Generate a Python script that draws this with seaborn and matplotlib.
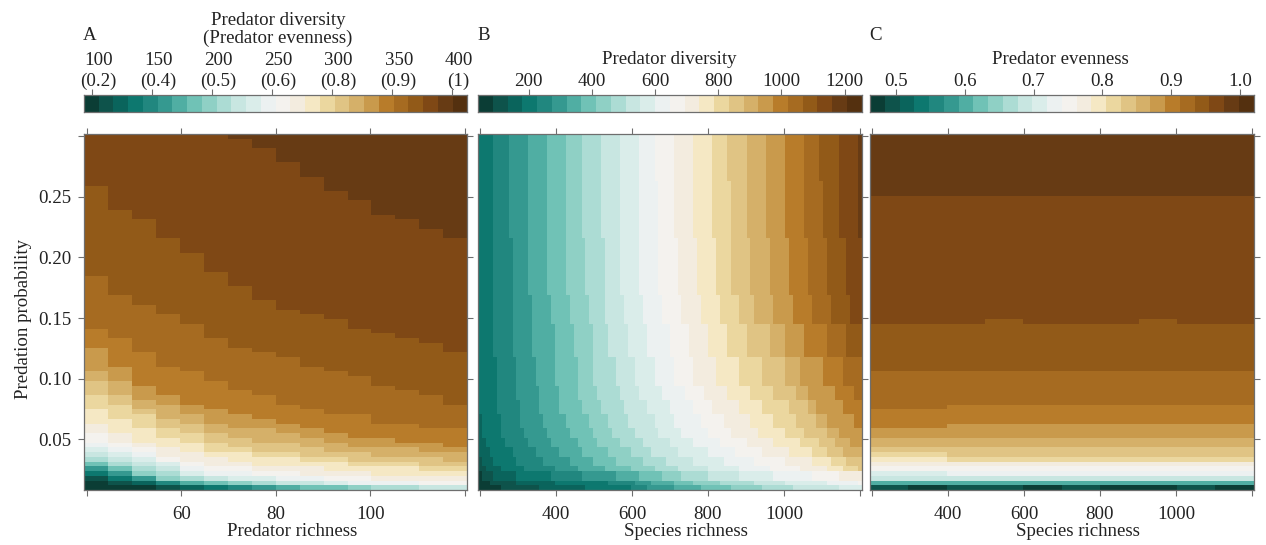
import numpy as np
import matplotlib
matplotlib.use("Agg")
import matplotlib.pyplot as plt
from matplotlib.colors import ListedColormap
from matplotlib.transforms import ScaledTranslation
import seaborn as sns

# ---------- data ----------
# Colour classes
level_colors = ["#0b3d35", "#0e534b", "#0a645c", "#0d786f", "#21877f", "#359990", "#50aea3", "#70c2b6",
                "#8fd0c5", "#acdcd4", "#c8e6e1", "#daedea", "#ecf1f1", "#f4f2ee", "#f3ecdf", "#f5e8c4",
                "#ebd79f", "#e0c484", "#d5b069", "#c99a4c", "#b87c2a", "#a66b21", "#925a18", "#7f4815",
                "#673b14", "#54300f"]
n_levels = len(level_colors)
# Predation-probability axis (thousandths), 75 rows
p_top, p_bottom, n_rows = 301.7, 8.3, 75

# Panel A: probability (thousandths) at which each colour class starts, per richness group
a_level_starts = [
 [17,14,12,10,0,0,0,0,0,0,0,0,0,0,0,0],
 [19,16,14,12,10,0,0,0,0,0,0,0,0,0,0,0],
 [21,17,15,13,12,10,0,0,0,0,0,0,0,0,0,0],
 [23,19,16,14,13,11,10,0,0,0,0,0,0,0,0,0],
 [25,21,17,15,13,12,11,10,0,0,0,0,0,0,0,0],
 [27,22,19,16,14,13,12,11,10,10,0,0,0,0,0,0],
 [28,24,20,17,15,14,13,12,11,10,10,0,0,0,0,0],
 [30,26,21,18,16,15,14,13,12,11,11,10,10,0,0,0],
 [32,28,24,20,17,16,15,14,13,12,12,11,10,10,10,10],
 [35,30,26,22,20,17,16,15,14,13,13,12,11,11,10,10],
 [39,34,30,26,21,19,18,17,16,15,14,13,13,12,12,11],
 [43,38,34,30,24,21,20,19,17,16,15,14,13,13,13,13],
 [49,42,38,32,28,24,23,21,20,19,17,16,15,15,14,14],
 [56,49,42,37,32,28,27,24,23,21,20,19,17,17,16,16],
 [62,57,49,43,38,34,32,28,28,26,24,23,21,21,19,19],
 [75,68,60,52,46,41,38,34,34,31,30,27,26,26,23,23],
 [87,77,69,60,54,49,45,41,39,37,35,32,30,30,28,27],
 [97,86,76,68,62,57,52,47,46,43,41,38,37,35,34,32],
 [105,97,84,77,71,65,61,58,54,50,49,45,43,42,39,38],
 [124,110,95,88,80,75,69,67,64,61,57,53,50,49,49,45],
 [143,132,121,110,105,98,92,86,80,75,72,69,65,62,61,58],
 [184,170,159,154,146,135,127,121,116,110,105,101,95,91,86,80],
 [258,241,230,214,203,189,176,165,157,154,148,143,137,132,128,122],
 [999,999,999,999,999,999,297,289,277,267,253,248,236,230,222,214],
]
a_group_size = 5   # richness cells per group

# Panel C: the same, per richness group
c_level_starts = [
 [10,11,10,10,11,10,12,11,10,11],
 [11,12,11,11,12,11,12,12,11,12],
 [12,12,12,12,12,12,12,12,12,12],
 [13,13,13,13,13,13,13,13,13,13],
 [13,14,13,13,14,13,14,13,13,14],
 [14,14,14,14,14,14,14,14,14,14],
 [15,15,15,15,15,15,15,15,15,15],
 [15,16,15,15,16,15,16,16,15,16],
 [16,17,16,16,17,16,17,16,16,17],
 [17,18,17,17,18,17,18,17,17,18],
 [19,19,19,19,19,19,19,19,19,19],
 [22,22,21,21,21,21,21,21,21,21],
 [25,25,25,25,25,25,25,25,25,25],
 [28,28,28,28,27,28,28,27,28,28],
 [31,31,30,30,30,30,30,30,30,30],
 [35,34,33,33,33,33,33,33,33,33],
 [39,38,37,37,37,37,37,37,37,37],
 [45,44,43,43,43,43,44,43,43,43],
 [53,53,52,52,52,52,53,52,52,52],
 [60,61,62,63,62,62,63,62,62,62],
 [75,76,77,78,78,77,78,77,78,77],
 [105,106,107,106,106,107,106,105,106,107],
 [147,146,147,148,147,146,147,148,147,146],
 [249,250,251,251,252,251,250,251,250,249],
]
c_group_size = 10

# Panel B: species richness at which each next colour class starts, per band of rows
b_row_spans = [10, 12, 12, 6, 7, 6, 3, 3, 3, 2, 2, 2, 2, 1, 2, 1, 1]
b_first_level = [3, 3, 3, 3, 3, 3, 3, 2, 2, 2, 2, 1, 1, 1, 0, 0, 0]
b_level_starts = [
 [234,274,325,375,425,465,515,564,614,653,704,754,804,846,893,944,993,1042,1085,1134,1182],
 [234,276,329,379,430,469,517,570,616,662,710,759,807,851,899,947,995,1048,1092,1140,1188],
 [234,281,329,379,425,474,522,570,620,666,719,767,811,859,908,956,1004,1057,1105,1153,1201],
 [234,285,335,386,434,484,524,574,624,675,724,774,824,873,914,963,1013,1064,1114,1164],
 [237,289,338,395,443,491,539,588,640,697,741,794,842,895,952,995,1048,1105,1158,1201],
 [241,294,346,399,452,500,553,605,658,710,759,820,873,934,991,1035,1096,1149,1193],
 [244,298,351,403,460,509,563,620,675,732,782,846,905,969,1022,1057,1123,1171,1219],
 [197,247,303,355,408,469,517,574,636,693,754,807,877,938,1004,1052,1079,1149,1193],
 [202,253,309,364,421,481,533,589,651,710,774,833,903,965,1026,1077,1109,1171,1215],
 [206,259,316,373,434,491,548,605,666,728,794,859,930,991,1048,1101,1136,1193],
 [212,267,329,388,452,510,570,627,691,754,826,899,969,1031,1083,1127,1166,1215],
 [197,224,281,342,408,469,531,592,649,719,794,864,938,1004,1061,1109,1149,1202],
 [203,238,296,367,434,496,560,621,684,754,835,912,991,1061,1118,1158,1193],
 [211,259,316,395,460,526,592,653,719,794,877,960,1039,1105,1149,1188],
 [202,237,298,381,465,553,614,675,728,798,877,965,1061,1140,1193],
 [224,298,395,535,605,649,702,754,824,912,1000,1105,1184],
 [254,360,474,596,640,710,780,851,938,1017,1131],
]
b_richness_step, b_richness_first, b_columns = 10, 200, 100

# Tick values and labels
a_xticks = [40, 60, 80, 100, 120]
bc_xticks = [200, 400, 600, 800, 1000, 1200]
y_ticks = [0.05, 0.10, 0.15, 0.20, 0.25, 0.30]
y_labels = ["0.05", "0.10", "0.15", "0.20", "0.25", ""]
cb_a_ticks = [100, 150, 200, 250, 300, 350, 400]
cb_a_labels = ["100\n(0.2)", "150\n(0.4)", "200\n(0.5)", "250\n(0.6)", "300\n(0.8)", "350\n(0.9)", "400\n(1)"]
cb_b_ticks = [200, 400, 600, 800, 1000, 1200]
cb_c_ticks = [0.5, 0.6, 0.7, 0.8, 0.9, 1.0]
cb_c_labels = ["0.5", "0.6", "0.7", "0.8", "0.9", "1.0"]

# ---------- build grids ----------
row_p = p_top - (np.arange(n_rows) + 0.5) * (p_top - p_bottom) / n_rows

def grid_from_starts(starts, group_size):
    s = np.array(starts)
    g = np.array([[(s[:, c] <= p).sum() for c in range(s.shape[1])] for p in row_p])
    return np.repeat(g, group_size, axis=1)

grid_a = grid_from_starts(a_level_starts, a_group_size)
grid_c = grid_from_starts(c_level_starts, c_group_size)

richness = b_richness_first + b_richness_step * np.arange(b_columns)
b_rows = []
for span, first, bounds in zip(b_row_spans, b_first_level, b_level_starts):
    row = first + np.searchsorted(bounds, richness, side="right")
    b_rows.extend([row] * span)
grid_b = np.array(b_rows)

# ---------- style ----------
sns.set_theme(style="white")
plt.rcParams["font.family"] = ["Liberation Serif", "DejaVu Serif"]
FS = 13.6
INK = "#222222"
GREY = "#6e6e6e"
W, H = 1266, 545
cmap = ListedColormap(level_colors)

fig = plt.figure(figsize=(W / 100, H / 100), dpi=100, facecolor="white")

def box(x0, x1, y0, y1):
    return fig.add_axes([x0 / W, 1 - y1 / H, (x1 - x0) / W, (y1 - y0) / H])

def frame(ax):
    for s in ax.spines.values():
        s.set_visible(True)
        s.set_color(GREY)
        s.set_linewidth(0.9)

panels = [
    (84, 467.3, grid_a, a_xticks, (39.43, 120.5), ["", "60", "80", "100", ""], "Predator richness"),
    (478, 861.7, grid_b, bc_xticks, (194.7, 1204.5), ["", "400", "600", "800", "1000", ""], "Species richness"),
    (870, 1253.7, grid_c, bc_xticks, (194.7, 1204.5), ["", "400", "600", "800", "1000", ""], "Species richness"),
]
for idx, (x0, x1, grid, xt, xr, xl, xlabel) in enumerate(panels):
    ax = box(x0, x1, 134, 490)
    sns.heatmap(grid, ax=ax, cmap=cmap, vmin=-0.5, vmax=n_levels - 0.5, cbar=False,
                xticklabels=False, yticklabels=False, linewidths=0, rasterized=True)
    frame(ax)
    nc = grid.shape[1]
    ax.set_xticks([(v - xr[0]) / (xr[1] - xr[0]) * nc for v in xt])
    ax.set_xticklabels(xl, fontsize=FS, color=INK)
    ax.set_yticks([(p_top / 1000 - v) / ((p_top - p_bottom) / 1000) * n_rows for v in y_ticks])
    ax.set_yticklabels(y_labels if idx == 0 else [""] * len(y_labels), fontsize=FS, color=INK, rotation=0)
    ax.tick_params(axis="x", bottom=True, top=True, length=4.2, width=0.8, color=GREY, pad=7.5, labelsize=FS)
    ax.tick_params(axis="y", left=(idx == 0), right=True, labelleft=(idx == 0), length=4.2, width=0.8,
                   color=GREY, pad=5, labelsize=FS)
    ax.set_xlabel(xlabel, fontsize=FS, color=INK, labelpad=0)
    ax.xaxis.label.set_x(0.5 + 16 / 383)
    if idx == 0:
        ax.set_ylabel("Predation probability", fontsize=FS, color=INK, labelpad=4)
        ax.yaxis.label.set_y(0.48)

colorbars = [
    (84, 467.3, (93.6, 413.0), cb_a_ticks, cb_a_labels, 7),
    (478, 861.7, (39.6, 1253.8), cb_b_ticks, [str(v) for v in cb_b_ticks], 0),
    (870, 1253.7, (0.4627, 1.0194), cb_c_ticks, cb_c_labels, 0),
]
level_strip = np.arange(n_levels)[None, :]
for x0, x1, vr, ticks, labels, shift in colorbars:
    ax = box(x0, x1, 95, 111.5)
    sns.heatmap(level_strip, ax=ax, cmap=cmap, vmin=-0.5, vmax=n_levels - 0.5, cbar=False,
                xticklabels=False, yticklabels=False, linewidths=0)
    frame(ax)
    ax.set_xticks([(v - vr[0]) / (vr[1] - vr[0]) * n_levels for v in ticks])
    ax.set_xticklabels(labels, fontsize=FS, color=INK, linespacing=1.3)
    ax.set_yticks([])
    ax.tick_params(axis="x", bottom=False, top=True, labelbottom=False, labeltop=True,
                   length=4.2, width=0.8, color=GREY, pad=-0.5, labelsize=FS)
    if shift:
        off = ScaledTranslation(shift / 100, 0, fig.dpi_scale_trans)
        for lab in ax.get_xticklabels():
            lab.set_transform(lab.get_transform() + off)

def label(x, y, s, **kw):
    fig.text(x / W, 1 - y / H, s, fontsize=FS, color=INK, va="center", **kw)

label(83, 35, "A")
label(477, 35, "B")
label(869, 35, "C")
label(278, 29.5, "Predator diversity\n(Predator evenness)", ha="center", linespacing=1.0)
label(669, 59, "Predator diversity", ha="center")
label(1060, 59, "Predator evenness", ha="center")

fig.savefig("out.png", dpi=100, facecolor="white")
